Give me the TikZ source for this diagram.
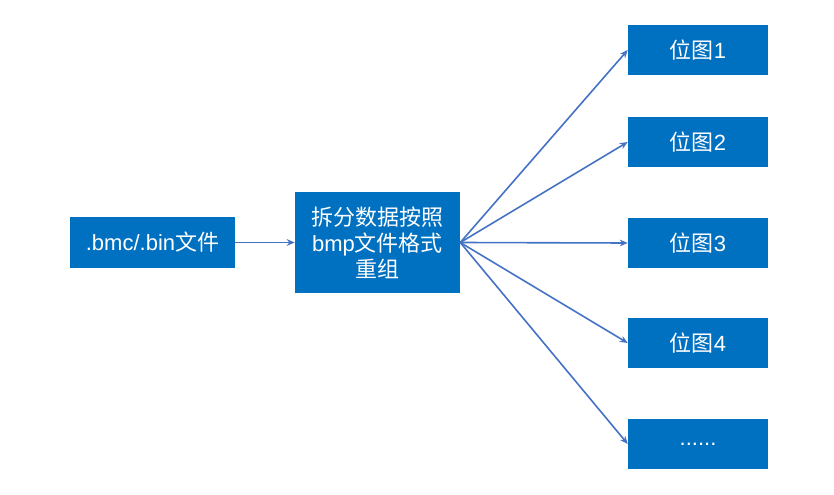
\documentclass[tikz,border=0pt]{standalone}
\usepackage{fontspec}
\setmainfont{Liberation Sans}
\newfontfamily\cjk{Noto Sans CJK SC}
\usetikzlibrary{arrows.meta,positioning}

\definecolor{boxblue}{HTML}{0070C0}
\definecolor{lineblue}{HTML}{4472C4}
\newcommand\moredots{......}

\begin{document}
\begin{tikzpicture}[x=0.75pt,y=-0.75pt,
  box/.style={fill=boxblue,text=white,inner sep=0pt,align=center,
    font=\fontsize{16.5}{19.5}\selectfont},
  link/.style={draw=lineblue,line width=1.2pt,-{Stealth[length=6pt,width=5pt]}}]
\useasboundingbox (0,0) rectangle (834,495);
\node[box,minimum width=123.75pt,minimum height=37.5pt] (src) at (152.5,242.5) {.bmc/.bin{\cjk 文件}};
\node[box,minimum width=123.75pt,minimum height=75.75pt] (split) at (377.5,242.5)
  {{\cjk 拆分数据按照}\\bmp{\cjk 文件格式}\\{\cjk 重组}};
\draw[link] (src) -- (split);
% bitmaps on the right
\foreach \i/\y/\t in {1/50/{\cjk 位图}1,2/142/{\cjk 位图}2,3/243/{\cjk 位图}3,4/343/{\cjk 位图}4,5/444/\moredots}{
  \node[box,minimum width=105pt,minimum height=37.5pt] (bmp\i) at (698,\y) {\t};
  \draw[link] (split.east) -- (bmp\i.west);
}
\end{tikzpicture}
\end{document}
